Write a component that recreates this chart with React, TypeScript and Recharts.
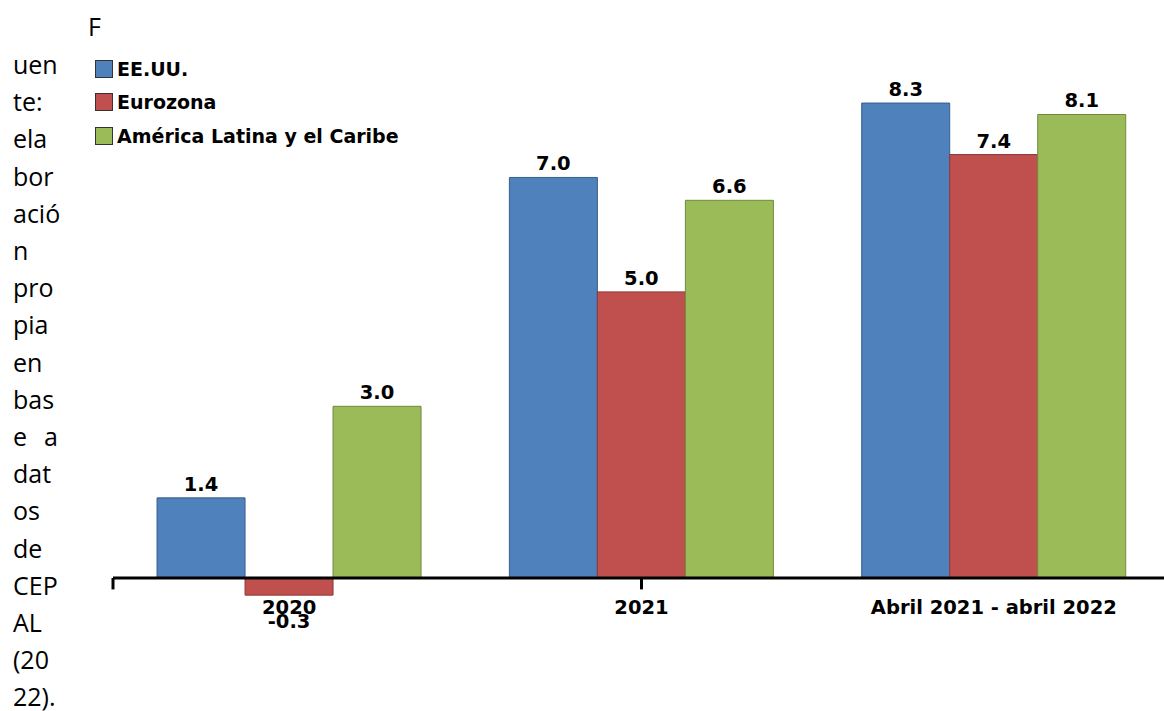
import React from "react";
import { Bar, BarChart, LabelList, Legend, ReferenceLine, XAxis, YAxis } from "recharts";

const categories = ["2020", "2021", "Abril 2021 - abril 2022"];
const seriesNames = ["EE.UU.", "Eurozona", "América Latina y el Caribe"];
const eeuu = [1.4, 7.0, 8.3];
const eurozona = [-0.3, 5.0, 7.4];
const latam = [3.0, 6.6, 8.1];
const edgeTicks = [0, 1, 2, 3];

const sourceFirst = "F";
const sourceLines = ["uen", "te:", "ela", "bor", "ació", "n", "pro", "pia", "en", "bas", "e a", "dat", "os", "de", "CEP", "AL", "(20", "22)."];

const data = categories.map((cat, i) => ({ cat, eeuu: eeuu[i], eurozona: eurozona[i], latam: latam[i] }));

const chartFont = "'DejaVu Sans', Verdana, sans-serif";
const labelStyle = { fill: "#000", fontFamily: chartFont, fontWeight: 700, fontSize: 19.5 };

function LegendBox({ payload }: any) {
  const items = [...(payload || [])].sort((a: any, b: any) => seriesNames.indexOf(a.value) - seriesNames.indexOf(b.value));
  return (
    <div style={{ fontFamily: chartFont, fontWeight: 700, fontSize: 19, color: "#000" }}>
      {items.map((item: any) => (
        <div key={item.value} style={{ display: "flex", alignItems: "center", height: 33.5 }}>
          <span style={{ width: 16, height: 16, background: item.color, border: "1px solid #333", marginRight: 4 }} />
          <span>{item.value}</span>
        </div>
      ))}
    </div>
  );
}

function ValueLabel(props: any) {
  const { x, y, width, height, value } = props;
  const top = Math.min(y, y + height);
  const bottom = Math.max(y, y + height);
  const v = Number(value);
  const ty = v < 0 ? bottom + 33 : top - 7;
  return (
    <text x={x + width / 2} y={ty} textAnchor="middle" style={labelStyle}>
      {v.toFixed(1)}
    </text>
  );
}

export default function App() {
  return (
    <div style={{ position: "absolute", left: 0, top: 0, width: 1164, height: 711, overflow: "hidden", background: "#fff" }}>
      <div style={{ position: "absolute", left: 88, top: 8, fontFamily: "'Open Sans', sans-serif", fontSize: 25, lineHeight: "37px" }}>
        {sourceFirst}
      </div>
      <div style={{ position: "absolute", left: 13, top: 46, width: 50, fontFamily: "'Open Sans', sans-serif", fontSize: 25, lineHeight: "37.2px" }}>
        {sourceLines.map((line) => (
          <div key={line} style={{ whiteSpace: "nowrap" }}>
            {line === "e a" ? (
              <span style={{ display: "flex", justifyContent: "space-between", width: 45 }}>
                <span>e</span>
                <span>a</span>
              </span>
            ) : (
              line
            )}
          </div>
        ))}
      </div>
      <BarChart
        width={1171}
        height={638}
        data={data}
        margin={{ top: 63, right: 1, left: 113, bottom: 0 }}
        barCategoryGap="12.5%"
        barGap={0}
      >
        <XAxis dataKey="cat" axisLine={false} tickLine={false} tickSize={2} tickMargin={0} tick={labelStyle} interval={0} height={40} />
        <XAxis xAxisId="edge" type="number" domain={[0, 3]} ticks={edgeTicks} hide />
        <YAxis domain={[-0.35, 9]} hide />
        <Legend
          layout="vertical"
          align="center"
          verticalAlign="middle"
          wrapperStyle={{ left: 95, top: 52, width: 360 }}
          content={<LegendBox />}
        />
        <Bar dataKey="eeuu" name={seriesNames[0]} fill="#4F81BD" stroke="#385D8A" strokeWidth={1} isAnimationActive={false}>
          <LabelList dataKey="eeuu" content={<ValueLabel />} />
        </Bar>
        <Bar dataKey="eurozona" name={seriesNames[1]} fill="#C0504D" stroke="#8C3836" strokeWidth={1} isAnimationActive={false}>
          <LabelList dataKey="eurozona" content={<ValueLabel />} />
        </Bar>
        <Bar dataKey="latam" name={seriesNames[2]} fill="#9BBB59" stroke="#71893F" strokeWidth={1} isAnimationActive={false}>
          <LabelList dataKey="latam" content={<ValueLabel />} />
        </Bar>
        <ReferenceLine y={0} stroke="#000" strokeWidth={3} />
        {edgeTicks.map((t) => (
          <ReferenceLine
            key={t}
            xAxisId="edge"
            segment={[
              { x: t, y: 0 },
              { x: t, y: -0.2 },
            ]}
            stroke="#000"
            strokeWidth={3}
          />
        ))}
      </BarChart>
    </div>
  );
}
